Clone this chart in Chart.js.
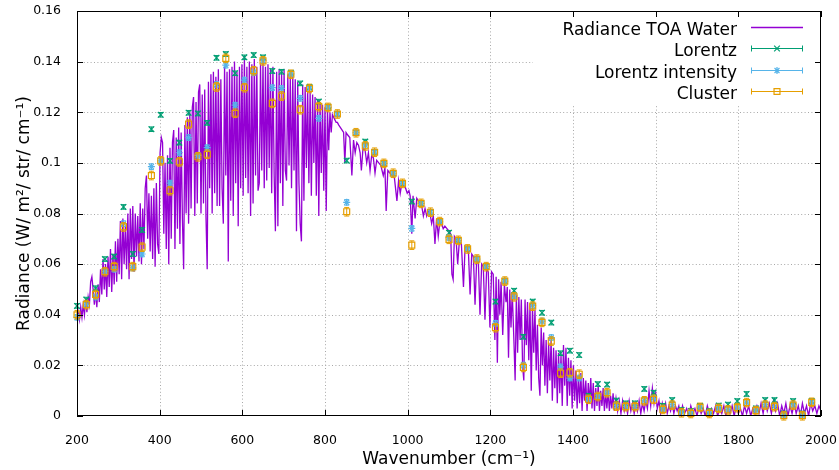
<!DOCTYPE html>
<html>
<head>
<meta charset="utf-8">
<script src="https://cdn.jsdelivr.net/npm/chart.js@4.4.1/dist/chart.umd.min.js"></script>
<style>
  html, body { margin: 0; padding: 0; background: #fff; }
  canvas { display: block; }
</style>
</head>
<body>
<canvas id="c" width="839" height="470"></canvas>
<script>
// high resolution spectrum (peaks and absorption dips)
const specWn = [
  200,203,206,209,212,215,218,221,224,227,
  230,233,236,239,242,245,248,251,254,257,
  260,263,266,269,272,275,278,281,284,287,
  290,293,296,299,302,305,308,311,314,317,
  320,323,326,329,332,335,338,341,344,347,
  350,353,356,359,362,365,368,371,374,377,
  380,383,386,389,392,395,398,401,404,407,
  410,413,416,419,422,425,428,431,434,437,
  440,443,446,449,452,455,458,461,464,467,
  470,473,476,479,482,485,488,491,494,497,
  500,503,506,509,512,515,518,521,524,527,
  530,533,536,539,542,545,548,551,554,557,
  560,563,566,569,572,575,578,581,584,587,
  590,593,596,599,602,605,608,611,614,617,
  620,623,626,629,632,635,638,641,644,647,
  650,653,656,659,662,665,668,671,674,677,
  680,683,686,689,692,695,698,701,704,707,
  710,713,716,719,722,725,728,731,734,737,
  740,743,746,749,752,755,758,761,764,767,
  770,773,776,779,782,785,788,791,794,797,
  800,803,806,809,812,815,818,821,824,827,
  830,833,837,841,845,848,851,855,860,865,
  869,873,877,881,885,888,892,897,901,905,
  909,913,917,921,925,930,935,941,945,948,
  952,957,962,968,974,978,982,986,990,995,
  999,1003,1006,1010,1013,1018,1022,1026,1030,1034,
  1038,1042,1046,1050,1054,1058,1062,1066,1070,1074,
  1078,1082,1086,1090,1095,1100,1104,1107,1110,1113,
  1117,1121,1125,1130,1135,1139,1143,1147,1151,1155,
  1159,1163,1167,1171,1175,1179,1183,1187,1191,1195,
  1199,1203,1207,1211,1214,1217,1220,1223,1226,1230,
  1234,1238,1241,1244,1247,1250,1253,1257,1260,1263,
  1266,1269,1272,1275,1278,1281,1284,1287,1290,1293,
  1296,1299,1302,1305,1308,1311,1314,1317,1320,1323,
  1326,1329,1332,1335,1338,1341,1344,1347,1350,1353,
  1356,1359,1362,1365,1368,1371,1374,1377,1380,1383,
  1386,1389,1392,1395,1398,1401,1404,1407,1410,1413,
  1416,1419,1422,1425,1428,1431,1434,1437,1440,1443,
  1446,1449,1452,1455,1458,1461,1464,1467,1470,1473,
  1476,1479,1482,1485,1488,1491,1494,1497,1500,1504,
  1508,1512,1516,1520,1524,1528,1532,1536,1540,1544,
  1548,1552,1556,1560,1564,1568,1572,1576,1580,1584,
  1588,1592,1596,1600,1604,1608,1612,1616,1620,1624,
  1628,1632,1636,1640,1644,1648,1652,1656,1660,1665,
  1670,1675,1680,1685,1690,1695,1700,1705,1710,1715,
  1720,1725,1730,1735,1740,1745,1750,1755,1760,1765,
  1770,1775,1780,1785,1790,1795,1800,1805,1810,1815,
  1820,1825,1830,1835,1840,1845,1850,1855,1860,1865,
  1870,1875,1880,1885,1890,1895,1900,1905,1910,1915,
  1920,1925,1930,1935,1940,1945,1950,1955,1960,1965,
  1970,1975,1980,1985,1990,1995,2000
];
const specRad = [
  0.036,0.041,0.038,0.043,0.039,0.044,0.040,0.046,0.041,0.047,
  0.044,0.053,0.055,0.050,0.044,0.049,0.043,0.052,0.045,0.058,
  0.048,0.062,0.050,0.060,0.047,0.063,0.051,0.066,0.049,0.064,
  0.052,0.069,0.053,0.070,0.056,0.077,0.054,0.078,0.060,0.075,
  0.058,0.080,0.054,0.082,0.062,0.083,0.057,0.080,0.063,0.079,
  0.061,0.084,0.060,0.082,0.066,0.090,0.095,0.070,0.088,0.065,
  0.087,0.062,0.090,0.059,0.092,0.068,0.064,0.104,0.110,0.108,
  0.072,0.100,0.066,0.103,0.060,0.106,0.070,0.108,0.113,0.066,
  0.110,0.074,0.114,0.068,0.112,0.078,0.058,0.115,0.080,0.118,
  0.076,0.120,0.082,0.122,0.126,0.079,0.124,0.084,0.128,0.131,
  0.080,0.127,0.084,0.129,0.079,0.058,0.132,0.090,0.135,0.080,
  0.136,0.088,0.134,0.083,0.137,0.083,0.133,0.090,0.076,0.138,
  0.095,0.136,0.061,0.137,0.085,0.138,0.079,0.140,0.092,0.136,
  0.075,0.138,0.090,0.139,0.087,0.142,0.094,0.138,0.088,0.140,
  0.079,0.139,0.084,0.141,0.095,0.138,0.089,0.092,0.139,0.097,
  0.140,0.090,0.138,0.093,0.139,0.098,0.137,0.088,0.138,0.095,
  0.073,0.136,0.075,0.137,0.092,0.136,0.083,0.137,0.097,0.093,
  0.135,0.099,0.134,0.090,0.135,0.097,0.133,0.073,0.132,0.092,
  0.076,0.069,0.131,0.085,0.130,0.098,0.129,0.092,0.128,0.087,
  0.127,0.100,0.126,0.087,0.125,0.079,0.124,0.096,0.123,0.089,
  0.122,0.081,0.121,0.105,0.120,0.112,0.119,0.118,0.117,0.116,
  0.116,0.115,0.114,0.113,0.112,0.100,0.112,0.111,0.110,0.095,
  0.109,0.104,0.108,0.107,0.104,0.097,0.106,0.105,0.100,0.104,
  0.097,0.103,0.102,0.096,0.101,0.100,0.099,0.095,0.098,0.081,
  0.097,0.096,0.095,0.094,0.085,0.093,0.088,0.092,0.091,0.090,
  0.088,0.089,0.087,0.072,0.087,0.078,0.086,0.085,0.084,0.083,
  0.079,0.082,0.079,0.081,0.080,0.076,0.079,0.068,0.078,0.071,
  0.077,0.076,0.074,0.075,0.074,0.073,0.072,0.056,0.054,0.071,
  0.070,0.060,0.069,0.068,0.051,0.067,0.066,0.065,0.048,0.064,
  0.063,0.044,0.062,0.061,0.040,0.060,0.059,0.038,0.058,0.057,
  0.035,0.057,0.056,0.030,0.055,0.021,0.054,0.040,0.053,0.032,
  0.052,0.045,0.051,0.023,0.050,0.035,0.049,0.030,0.014,0.048,
  0.025,0.047,0.030,0.046,0.020,0.014,0.046,0.028,0.045,0.022,
  0.044,0.010,0.043,0.025,0.042,0.018,0.036,0.015,0.008,0.035,
  0.020,0.033,0.012,0.030,0.009,0.029,0.014,0.030,0.006,0.027,
  0.011,0.026,0.005,0.025,0.009,0.024,0.004,0.028,0.012,0.027,
  0.004,0.023,0.008,0.022,0.003,0.020,0.006,0.018,0.003,0.016,
  0.005,0.017,0.002,0.015,0.006,0.014,0.002,0.013,0.005,0.015,
  0.003,0.013,0.002,0.011,0.004,0.012,0.002,0.010,0.004,0.011,
  0.002,0.009,0.003,0.010,0.002,0.008,0.003,0.009,0.002,0.007,
  0.002,0.006,0.001,0.006,0.002,0.005,0.001,0.006,0.002,0.005,
  0.001,0.005,0.002,0.006,0.001,0.005,0.002,0.006,0.003,0.010,
  0.004,0.011,0.005,0.009,0.003,0.006,0.001,0.005,0.002,0.005,
  0.001,0.004,0.002,0.005,0.001,0.004,0.002,0.004,0.000,0.004,
  0.001,0.003,0.000,0.004,0.001,0.003,0.000,0.004,0.001,0.003,
  0.000,0.004,0.001,0.003,0.001,0.004,0.000,0.003,0.001,0.004,
  0.000,0.003,0.001,0.004,0.000,0.004,0.001,0.003,0.000,0.004,
  0.001,0.004,0.000,0.003,0.001,0.004,0.001,0.005,0.001,0.006,
  0.002,0.005,0.001,0.006,0.002,0.005,0.000,0.004,0.001,0.005,
  0.000,0.004,0.001,0.005,0.001,0.004,0.000,0.005,0.001,0.004,
  0.000,0.005,0.002,0.004,0.001,0.004,0.002
];

// fitted band values, one per band centre
const bandWn = [
  200,222.5,245,267.5,290,312.5,335,357.5,380,402.5,
  425,447.5,470,492.5,515,537.5,560,582.5,605,627.5,
  650,672.5,695,717.5,740,762.5,785,807.5,830,852.5,
  875,897.5,920,942.5,965,987.5,1010,1032.5,1055,1077.5,
  1100,1122.5,1145,1167.5,1190,1212.5,1235,1257.5,1280,1302.5,
  1325,1347.5,1370,1392.5,1415,1437.5,1460,1482.5,1505,1527.5,
  1550,1572.5,1595,1617.5,1640,1662.5,1685,1707.5,1730,1752.5,
  1775,1797.5,1820,1842.5,1865,1887.5,1910,1932.5,1955,1977.5
];
const lorentz = [
  0.0435,0.0460,0.0505,0.0620,0.0630,0.0826,0.0640,0.0735,0.1133,0.1190,
  0.1008,0.1080,0.1198,0.1195,0.1158,0.1415,0.1430,0.1354,0.1417,0.1426,
  0.1417,0.1363,0.1360,0.1356,0.1314,0.1300,0.1242,0.1222,0.1193,0.1009,
  0.1119,0.1084,0.1042,0.0998,0.0959,0.0919,0.0847,0.0840,0.0805,0.0768,
  0.0724,0.0694,0.0660,0.0620,0.0590,0.0452,0.0533,0.0495,0.0313,0.0452,
  0.0408,0.0369,0.0248,0.0258,0.0241,0.0080,0.0126,0.0124,0.0061,0.0050,
  0.0050,0.0107,0.0092,0.0040,0.0063,0.0024,0.0020,0.0040,0.0020,0.0041,
  0.0045,0.0059,0.0087,0.0030,0.0063,0.0063,0.0010,0.0059,0.0010,0.0059
];
const lorentzIntensity = [
  0.0390,0.0440,0.0470,0.0570,0.0580,0.0760,0.0585,0.0640,0.0985,0.1008,
  0.0920,0.1040,0.1100,0.1030,0.1060,0.1310,0.1386,0.1228,0.1327,0.1356,
  0.1405,0.1297,0.1294,0.1352,0.1255,0.1294,0.1176,0.1219,0.1193,0.0844,
  0.1119,0.1070,0.1042,0.0998,0.0959,0.0919,0.0741,0.0840,0.0805,0.0768,
  0.0705,0.0694,0.0660,0.0620,0.0590,0.0366,0.0533,0.0475,0.0201,0.0436,
  0.0375,0.0310,0.0194,0.0150,0.0150,0.0068,0.0080,0.0090,0.0042,0.0038,
  0.0038,0.0062,0.0070,0.0028,0.0045,0.0015,0.0012,0.0035,0.0012,0.0032,
  0.0026,0.0035,0.0055,0.0023,0.0045,0.0038,0.0003,0.0045,0.0004,0.0055
];
const cluster = [
  0.0400,0.0440,0.0480,0.0570,0.0590,0.0747,0.0590,0.0667,0.0950,0.1008,
  0.0890,0.1004,0.1153,0.1024,0.1034,0.1300,0.1413,0.1196,0.1297,0.1364,
  0.1403,0.1235,0.1264,0.1350,0.1210,0.1294,0.1222,0.1219,0.1193,0.0807,
  0.1119,0.1067,0.1042,0.0998,0.0959,0.0919,0.0675,0.0840,0.0805,0.0768,
  0.0698,0.0694,0.0660,0.0620,0.0590,0.0349,0.0533,0.0471,0.0192,0.0434,
  0.0370,0.0296,0.0169,0.0171,0.0165,0.0066,0.0077,0.0092,0.0039,0.0037,
  0.0037,0.0060,0.0066,0.0026,0.0043,0.0013,0.0010,0.0034,0.0010,0.0030,
  0.0024,0.0033,0.0053,0.0021,0.0043,0.0037,0.0001,0.0043,0.0001,0.0054
];
// symmetric error bar half heights
const errLorentz = 0.0009;
const errIntensity = 0.0011;
const errCluster = 0.0017;

const xTicks = [200, 400, 600, 800, 1000, 1200, 1400, 1600, 1800, 2000];
const yTicks = [0, 0.02, 0.04, 0.06, 0.08, 0.1, 0.12, 0.14, 0.16];

const PURPLE = '#9400d3', GREEN = '#009e73', BLUE = '#56b4e9', ORANGE = '#e69f00';

Chart.defaults.font.family = "'DejaVu Sans', sans-serif";
Chart.defaults.color = '#000';

function toXY(xs, ys) {
  return xs.map((x, i) => ({ x, y: ys[i] }));
}

function drawMark(ctx, style, x, y, r) {
  ctx.beginPath();
  const d = r * Math.SQRT1_2;
  if (style === 'crossRot' || style === 'star') {
    ctx.moveTo(x - d, y - d); ctx.lineTo(x + d, y + d);
    ctx.moveTo(x - d, y + d); ctx.lineTo(x + d, y - d);
  }
  if (style === 'star') {
    ctx.moveTo(x - r, y); ctx.lineTo(x + r, y);
    ctx.moveTo(x, y - r); ctx.lineTo(x, y + r);
  }
  if (style === 'rect') ctx.rect(x - d, y - d, 2 * d, 2 * d);
  ctx.stroke();
}

// error bars, drawn right after their own dataset
const errorBars = {
  id: 'errorBars',
  afterDatasetDraw(chart, args) {
    const ds = chart.data.datasets[args.index];
    if (!ds.err) return;
    const { ctx, scales: { x, y } } = chart;
    const cap = 2.5;
    ctx.save();
    ctx.strokeStyle = ds.borderColor;
    ctx.lineWidth = 1;
    ds.data.forEach(p => {
      const px = x.getPixelForValue(p.x);
      const y1 = y.getPixelForValue(p.y - ds.err);
      const y2 = y.getPixelForValue(p.y + ds.err);
      ctx.beginPath();
      ctx.moveTo(px, y1); ctx.lineTo(px, y2);
      ctx.moveTo(px - cap, y1); ctx.lineTo(px + cap, y1);
      ctx.moveTo(px - cap, y2); ctx.lineTo(px + cap, y2);
      ctx.stroke();
    });
    ctx.restore();
  }
};

// gnuplot look: dotted grid, key box, border with inward ticks
const gnuplotFrame = {
  id: 'gnuplotFrame',
  beforeDatasetsDraw(chart) {
    const { ctx, chartArea: a, scales: { x, y } } = chart;
    ctx.save();
    ctx.strokeStyle = '#a8a8a8';
    ctx.lineWidth = 1;
    ctx.setLineDash([1, 2.4]);
    ctx.beginPath();
    xTicks.slice(1, -1).forEach(v => {
      const px = Math.round(x.getPixelForValue(v)) + 0.5;
      ctx.moveTo(px, a.top); ctx.lineTo(px, a.bottom);
    });
    yTicks.slice(1, -1).forEach(v => {
      const py = Math.round(y.getPixelForValue(v)) + 0.5;
      ctx.moveTo(a.left, py); ctx.lineTo(a.right, py);
    });
    ctx.stroke();
    ctx.restore();
  },
  afterDatasetsDraw(chart) {
    const { ctx, chartArea: a, scales: { x, y } } = chart;
    ctx.save();
    // key
    const boxLeft = a.right - 288, boxBottom = a.top + 94;
    ctx.fillStyle = '#fff';
    ctx.fillRect(boxLeft, a.top, a.right - boxLeft, boxBottom - a.top);
    const textRight = a.right - 84, s1 = a.right - 70, s2 = a.right - 18, sm = (s1 + s2) / 2;
    ctx.font = "17px 'DejaVu Sans'";
    ctx.textAlign = 'right';
    ctx.textBaseline = 'alphabetic';
    chart.data.datasets.forEach((ds, i) => {
      const base = a.top + 24 + i * 21.3;
      const mid = Math.round(base - 8) + 0.5;
      ctx.fillStyle = '#000';
      ctx.fillText(ds.label, textRight, base);
      ctx.strokeStyle = ds.borderColor;
      ctx.lineWidth = ds.err ? 1 : 1.4;
      ctx.beginPath();
      ctx.moveTo(s1, mid); ctx.lineTo(s2, mid);
      if (ds.err) {
        ctx.moveTo(s1 + 0.5, mid - 3); ctx.lineTo(s1 + 0.5, mid + 3);
        ctx.moveTo(s2 - 0.5, mid - 3); ctx.lineTo(s2 - 0.5, mid + 3);
      }
      ctx.stroke();
      if (ds.err) {
        ctx.lineWidth = ds.pointBorderWidth;
        drawMark(ctx, ds.pointStyle, sm, mid, ds.pointRadius);
      }
    });
    // border and ticks
    ctx.strokeStyle = '#000';
    ctx.lineWidth = 1;
    ctx.strokeRect(a.left + 0.5, a.top + 0.5, a.right - a.left - 1, a.bottom - a.top - 1);
    const tl = 6;
    ctx.beginPath();
    xTicks.forEach(v => {
      const px = Math.round(x.getPixelForValue(v)) + 0.5;
      ctx.moveTo(px, a.bottom); ctx.lineTo(px, a.bottom - tl);
      ctx.moveTo(px, a.top); ctx.lineTo(px, a.top + tl);
    });
    yTicks.forEach(v => {
      const py = Math.round(y.getPixelForValue(v)) + 0.5;
      ctx.moveTo(a.left, py); ctx.lineTo(a.left + tl, py);
      ctx.moveTo(a.right, py); ctx.lineTo(a.right - tl, py);
    });
    ctx.stroke();
    ctx.restore();
  }
};

const markerCommon = { showLine: false, clip: false, pointBorderWidth: 1.2, pointHoverRadius: 0 };

new Chart(document.getElementById('c'), {
  type: 'scatter',
  data: {
    datasets: [
      { type: 'line', label: 'Radiance TOA Water', data: toXY(specWn, specRad),
        borderColor: PURPLE, borderWidth: 1.3, pointRadius: 0, fill: false, tension: 0, order: 4 },
      Object.assign({ label: 'Lorentz', data: toXY(bandWn, lorentz), err: errLorentz,
        pointStyle: 'crossRot', pointRadius: 4, borderColor: GREEN, backgroundColor: GREEN,
        pointBorderColor: GREEN, order: 3 }, markerCommon),
      Object.assign({ label: 'Lorentz intensity', data: toXY(bandWn, lorentzIntensity), err: errIntensity,
        pointStyle: 'star', pointRadius: 3.5, borderColor: BLUE, backgroundColor: BLUE,
        pointBorderColor: BLUE, order: 2 }, markerCommon),
      Object.assign({ label: 'Cluster', data: toXY(bandWn, cluster), err: errCluster,
        pointStyle: 'rect', pointRadius: 4.2, borderColor: ORANGE, backgroundColor: 'rgba(0,0,0,0)',
        pointBorderColor: ORANGE, pointBackgroundColor: 'rgba(0,0,0,0)', order: 1 }, markerCommon)
    ]
  },
  options: {
    responsive: false,
    animation: false,
    devicePixelRatio: 1,
    events: [],
    layout: { padding: { top: 11, right: 18, left: 0, bottom: 0 } },
    plugins: { legend: { display: false }, tooltip: { enabled: false } },
    scales: {
      x: {
        type: 'linear', min: 200, max: 2000,
        grid: { display: false }, border: { display: false },
        afterBuildTicks: s => { s.ticks = xTicks.map(v => ({ value: v })); },
        ticks: { padding: 9, color: '#000', font: { size: 12.5 }, maxRotation: 0, autoSkip: false,
          callback: v => String(v) },
        title: { display: true, text: 'Wavenumber (cm⁻¹)', color: '#000', font: { size: 17 },
          padding: { top: 3, bottom: 0 } },
        afterFit: s => { s.height = 54; s.paddingLeft = 0; s.paddingRight = 0; }
      },
      y: {
        type: 'linear', min: 0, max: 0.16,
        grid: { display: false }, border: { display: false },
        afterBuildTicks: s => { s.ticks = yTicks.map(v => ({ value: v })); },
        ticks: { padding: 8, color: '#000', font: { size: 12.5 },
          callback: v => String(+v.toFixed(2)) },
        title: { display: true, text: 'Radiance (W/ m²/ str/ cm⁻¹)', color: '#000', font: { size: 17 },
          padding: { top: 14, bottom: 0 } },
        afterFit: s => { s.width = 77; s.paddingTop = 0; s.paddingBottom = 0; }
      }
    }
  },
  plugins: [errorBars, gnuplotFrame]
});
</script>
</body>
</html>
